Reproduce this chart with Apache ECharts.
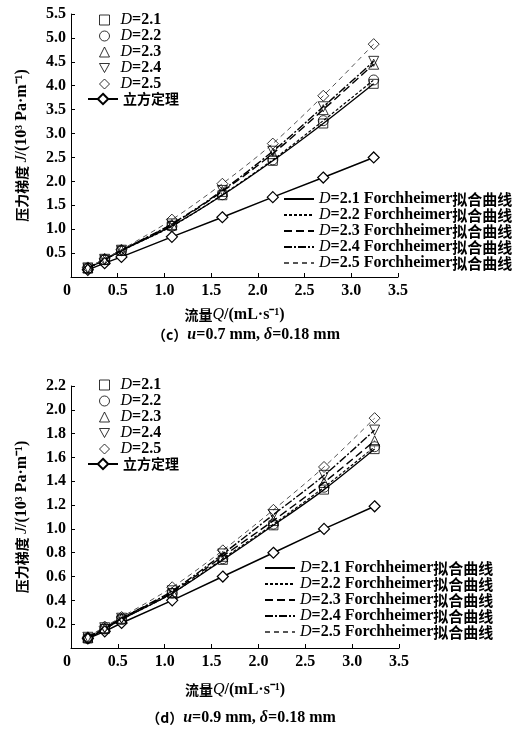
<!DOCTYPE html>
<html>
<head>
<meta charset="utf-8">
<script src="https://cdn.jsdelivr.net/npm/echarts@6.0.0/dist/echarts.min.js"></script>
<style>
	html, body { margin: 0; padding: 0; background: #fff; }
	#main { width: 514px; height: 729px; }
</style>
</head>
<body>
<div id="main"></div>
<script>
// 流量 Q (mL/s)
var flowQ = [0.18, 0.36, 0.54, 1.08, 1.62, 2.16, 2.70, 3.24];

// (c) u=0.7 mm
var cD21 = [0.18, 0.36, 0.55, 1.07, 1.71, 2.43, 3.21, 4.04];
var cD22 = [0.18, 0.36, 0.55, 1.06, 1.72, 2.45, 3.27, 4.12];
var cD23 = [0.19, 0.37, 0.56, 1.10, 1.79, 2.58, 3.50, 4.45];
var cD24 = [0.19, 0.37, 0.56, 1.11, 1.81, 2.63, 3.56, 4.51];
var cD25 = [0.20, 0.38, 0.57, 1.20, 1.95, 2.79, 3.79, 4.87];
var cCubic = [0.15, 0.29, 0.42, 0.84, 1.25, 1.67, 2.08, 2.50];

// (d) u=0.9 mm
var dD21 = [0.08, 0.16, 0.24, 0.46, 0.74, 1.03, 1.33, 1.67];
var dD22 = [0.08, 0.16, 0.24, 0.46, 0.75, 1.04, 1.35, 1.69];
var dD23 = [0.09, 0.17, 0.25, 0.47, 0.77, 1.07, 1.39, 1.74];
var dD24 = [0.09, 0.17, 0.25, 0.48, 0.79, 1.12, 1.45, 1.83];
var dD25 = [0.09, 0.18, 0.26, 0.51, 0.82, 1.16, 1.52, 1.93];
var dCubic = [0.08, 0.14, 0.21, 0.40, 0.60, 0.80, 1.00, 1.19];

var dNames = ['D=2.1', 'D=2.2', 'D=2.3', 'D=2.4', 'D=2.5'];
var cubicName = '立方定理';
var fitSuffix = ' Forchheimer拟合曲线';
var xTicks = [0, 3.5, 0.5];
var cYTicks = [0, 5.5, 0.5];
var dYTicks = [0, 2.2, 0.2];

var serif = 'Liberation Serif';
var cjk = 'Noto Sans CJK SC';

function pairs(ys) {
	var out = [];
	for (var i = 0; i < flowQ.length; i++) {
		out.push([flowQ[i], ys[i]]);
	}
	return out;
}

// 散点样式 (icon 用于图例)
var markers = [
	{ symbol: 'rect', size: 9, rotate: 0, icon: 'rect' },
	{ symbol: 'circle', size: 10, rotate: 0, icon: 'circle' },
	{ symbol: 'triangle', size: 10, rotate: 0, icon: 'triangle' },
	{ symbol: 'triangle', size: 10, rotate: 180, icon: 'path://M0,0L10,0L5,9Z' },
	{ symbol: 'diamond', size: 11, rotate: 0, icon: 'diamond' }
];
// 拟合线样式
var fitStyles = [
	{ color: '#000', type: 'solid', width: 1.3 },
	{ color: '#000', type: [3, 2], width: 1.2 },
	{ color: '#000', type: [8, 4], width: 1.4 },
	{ color: '#000', type: [8, 2, 2, 2], width: 1.4 },
	{ color: '#555', type: [5, 4], width: 1 }
];

var rich = {
	i: { fontFamily: serif, fontStyle: 'italic', fontSize: 16, color: '#000', lineHeight: 16 },
	b: { fontFamily: serif, fontWeight: 'bold', fontSize: 16, color: '#000', lineHeight: 16 },
	z: { fontFamily: cjk, fontWeight: 'bold', fontSize: 14, color: '#000', lineHeight: 16 },
	zz: { fontFamily: cjk, fontWeight: 'bold', fontSize: 15, color: '#000', lineHeight: 16 },
	sp: { width: 6, lineHeight: 16 }
};

function legendText(name) {
	if (name == cubicName) {
		return '{z|' + name + '}';
	}
	var base = name.substr(2, 3);
	if (name.indexOf('Forchheimer') > 0) {
		return '{i|D}{b|=' + base + ' Forchheimer}{zz|拟合曲线}';
	}
	return '{sp| }{i|D}{b|=' + base + '}';
}

function buildSeries(idx, list, cubic) {
	var out = [];
	for (var k = 0; k < list.length; k++) {
		out.push({
			name: dNames[k] + fitSuffix,
			type: 'line',
			xAxisIndex: idx,
			yAxisIndex: idx,
			data: pairs(list[k]),
			smooth: 0.3,
			symbol: 'none',
			silent: true,
			z: 2,
			lineStyle: fitStyles[k],
			itemStyle: { color: fitStyles[k].color }
		});
	}
	out.push({
		name: cubicName,
		type: 'line',
		xAxisIndex: idx,
		yAxisIndex: idx,
		data: pairs(cubic),
		symbol: 'diamond',
		symbolSize: 11,
		showAllSymbol: true,
		z: 3,
		lineStyle: { color: '#000', width: 1.5 },
		itemStyle: { color: '#fff', borderColor: '#000', borderWidth: 1.2 }
	});
	for (var m = 0; m < list.length; m++) {
		out.push({
			name: dNames[m],
			type: 'scatter',
			xAxisIndex: idx,
			yAxisIndex: idx,
			data: pairs(list[m]),
			symbol: markers[m].symbol,
			symbolSize: markers[m].size,
			symbolRotate: markers[m].rotate,
			z: 4,
			itemStyle: { color: 'rgba(255,255,255,0)', borderColor: '#000', borderWidth: 1 }
		});
	}
	return out;
}

function xAxisOpt(idx, nameGap) {
	return {
		type: 'value',
		gridIndex: idx,
		min: xTicks[0],
		max: xTicks[1],
		interval: xTicks[2],
		name: '{z|流量}{i|Q}{b|/(mL·s⁻¹)}',
		nameLocation: 'middle',
		nameGap: nameGap,
		nameTextStyle: { rich: rich },
		splitLine: { show: false },
		axisLine: { lineStyle: { color: '#000', width: 1 } },
		axisTick: { inside: true, length: 4, lineStyle: { color: '#000' } },
		axisLabel: {
			margin: 6,
			alignMinLabel: 'right',
			color: '#000',
			fontFamily: serif,
			fontWeight: 'bold',
			fontSize: 16,
			formatter: function(v) { return v == 0 ? '0' : v.toFixed(1); }
		}
	};
}

function yAxisOpt(idx, ticks) {
	return {
		type: 'value',
		gridIndex: idx,
		min: ticks[0],
		max: ticks[1],
		interval: ticks[2],
		name: '{z|压力梯度 }{i|J}{b|/(10³ Pa·m⁻¹)}',
		nameLocation: 'middle',
		nameGap: 41,
		nameTextStyle: { rich: rich },
		splitLine: { show: false },
		axisLine: { show: true, lineStyle: { color: '#000', width: 1 } },
		axisTick: { show: true, inside: true, length: 4, lineStyle: { color: '#000' } },
		axisLabel: {
			margin: 5,
			showMinLabel: false,
			color: '#000',
			fontFamily: serif,
			fontWeight: 'bold',
			fontSize: 16,
			formatter: function(v) { return v.toFixed(1); }
		}
	};
}

function legendOpt(left, top, names, itemW, itemH, kind) {
	var lg = {
		orient: 'vertical',
		left: left,
		top: top,
		itemWidth: itemW,
		itemHeight: itemH,
		itemGap: 0,
		padding: 0,
		selectedMode: false,
		data: names,
		formatter: legendText,
		textStyle: { rich: rich }
	};
	if (kind == 'fit') {
		lg.itemStyle = { color: 'rgba(0,0,0,0)', borderWidth: 0, opacity: 0 };
	} else if (kind == 'mark') {
		lg.data = names.map(function(n, j) {
			return { name: n, icon: markers[j].icon };
		});
		lg.itemStyle = { color: 'rgba(255,255,255,0)', borderColor: '#000', borderWidth: 1 };
	}
	return lg;
}

var fitNames = dNames.map(function(n) { return n + fitSuffix; });

var myChart = echarts.init(document.getElementById('main'));
var option = {
	backgroundColor: '#fff',
	animation: false,
	title: [{
		text: '{z|（c）}{i|u}{b|=0.7 mm, }{i|δ}{b|=0.18 mm}',
		left: 241,
		top: 322,
		textAlign: 'center',
		textStyle: { rich: rich }
	}, {
		text: '{z|（d）}{i|u}{b|=0.9 mm, }{i|δ}{b|=0.18 mm}',
		left: 236,
		top: 705,
		textAlign: 'center',
		textStyle: { rich: rich }
	}],
	grid: [
		{ left: 71, top: 14, width: 327, height: 263 },
		{ left: 71, top: 386, width: 328, height: 262 }
	],
	xAxis: [xAxisOpt(0, 30), xAxisOpt(1, 34)],
	yAxis: [yAxisOpt(0, cYTicks), yAxisOpt(1, dYTicks)],
	legend: [
		legendOpt(99, 12, dNames, 10, 10, 'mark'),
		legendOpt(87, 92, [cubicName], 30, 13, 'line'),
		legendOpt(283, 191, fitNames, 30, 14, 'fit'),
		legendOpt(99, 377, dNames, 10, 10, 'mark'),
		legendOpt(87, 457, [cubicName], 30, 13, 'line'),
		legendOpt(264, 560, fitNames, 30, 14, 'fit')
	],
	series: buildSeries(0, [cD21, cD22, cD23, cD24, cD25], cCubic)
		.concat(buildSeries(1, [dD21, dD22, dD23, dD24, dD25], dCubic))
};
myChart.setOption(option);
</script>
</body>
</html>
